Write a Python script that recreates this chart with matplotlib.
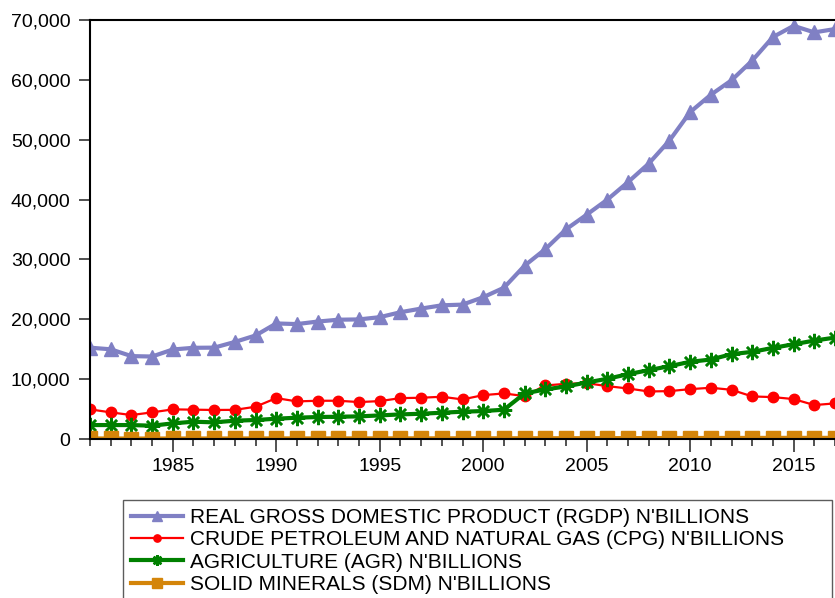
import matplotlib
matplotlib.use("Agg")
import matplotlib.pyplot as plt
from matplotlib.ticker import MultipleLocator, FuncFormatter

plt.rcParams['font.family'] = ['Liberation Sans', 'DejaVu Sans']

years = list(range(1981, 2018))

rgdp = [15258, 14985, 13849, 13779, 14953, 15237, 15263, 16215, 17294, 19305,
        19199, 19620, 19928, 19979, 20353, 21178, 21790, 22333, 22449, 23688,
        25267, 28957, 31710, 35021, 37474, 39995, 42922, 46012, 49856, 54612,
        57511, 59929, 63218, 67152, 69023, 67931, 68490]

cpg = [4950, 4450, 4000, 4450, 4950, 4900, 4850, 4870, 5390, 6830,
       6280, 6390, 6390, 6170, 6330, 6830, 6890, 7060, 6610, 7330,
       7610, 7170, 8940, 9220, 9330, 8830, 8440, 7940, 8000, 8330,
       8560, 8220, 7110, 7000, 6670, 5670, 5950]

agr = [2330, 2330, 2330, 2220, 2610, 2890, 2780, 3060, 3170, 3390,
       3560, 3670, 3720, 3780, 3940, 4110, 4220, 4390, 4560, 4670,
       4890, 7610, 8280, 8780, 9440, 10060, 10830, 11500, 12170, 12890,
       13280, 14170, 14560, 15220, 15830, 16440, 16940]

sdm = [90, 85, 80, 80, 85, 85, 90, 90, 95, 100,
       100, 100, 105, 105, 105, 110, 110, 110, 115, 115,
       120, 125, 130, 135, 140, 145, 150, 155, 160, 165,
       170, 175, 180, 185, 190, 185, 190]

labels = ["REAL GROSS DOMESTIC PRODUCT (RGDP) N'BILLIONS",
          "CRUDE PETROLEUM AND NATURAL GAS (CPG) N'BILLIONS",
          "AGRICULTURE (AGR) N'BILLIONS",
          "SOLID MINERALS (SDM) N'BILLIONS"]

W, H = 835, 598
fig = plt.figure(figsize=(W / 100, H / 100), dpi=100)
ax = fig.add_axes([90 / W, 1 - 439 / H, (835 - 90) / W, (439 - 20) / H])

ax.plot(years, rgdp, color='#8080C4', lw=3, marker='^', ms=10, label=labels[0])
ax.plot(years, cpg, color='#FF0000', lw=1.6, marker='o', ms=7.5, label=labels[1])
ax.plot(years, agr, color='#008000', lw=3, marker=(8, 2, 0), ms=11, mew=1.8,
        label=labels[2])
ax.plot(years, sdm, color='#D4850A', lw=3, marker='s', ms=10, label=labels[3])

ax.set_xlim(1981, 2017)
ax.set_ylim(0, 70000)
ax.xaxis.set_major_locator(MultipleLocator(5))
ax.xaxis.set_minor_locator(MultipleLocator(1))
ax.yaxis.set_major_locator(MultipleLocator(10000))
ax.yaxis.set_major_formatter(FuncFormatter(lambda v, p: f"{int(v):,}"))

ax.tick_params(axis='both', which='major', labelsize=14, direction='out',
               width=1.2, color='#333333')
ax.tick_params(axis='x', which='major', length=9, pad=5)
ax.tick_params(axis='x', which='minor', length=5, width=1.2, color='#333333')
ax.tick_params(axis='y', which='major', length=8, pad=6)

for s in ['left', 'bottom', 'top']:
    ax.spines[s].set_linewidth(1.5)
    ax.spines[s].set_color('black')
ax.spines['right'].set_visible(False)

x0, y0 = 123 / W, 1 - 500 / H
leg = fig.legend(loc='upper left', bbox_to_anchor=(x0, y0 - 0.3, 832 / W - x0, 0.3),
                 bbox_transform=fig.transFigure, borderaxespad=0, mode='expand',
                 fontsize=15, frameon=True, fancybox=False, edgecolor='#333333',
                 handlelength=2.5, handletextpad=0.35, labelspacing=0.16,
                 borderpad=0.38, markerscale=0.7)
leg.get_frame().set_linewidth(1.0)

fig.savefig('out.png', dpi=100)
